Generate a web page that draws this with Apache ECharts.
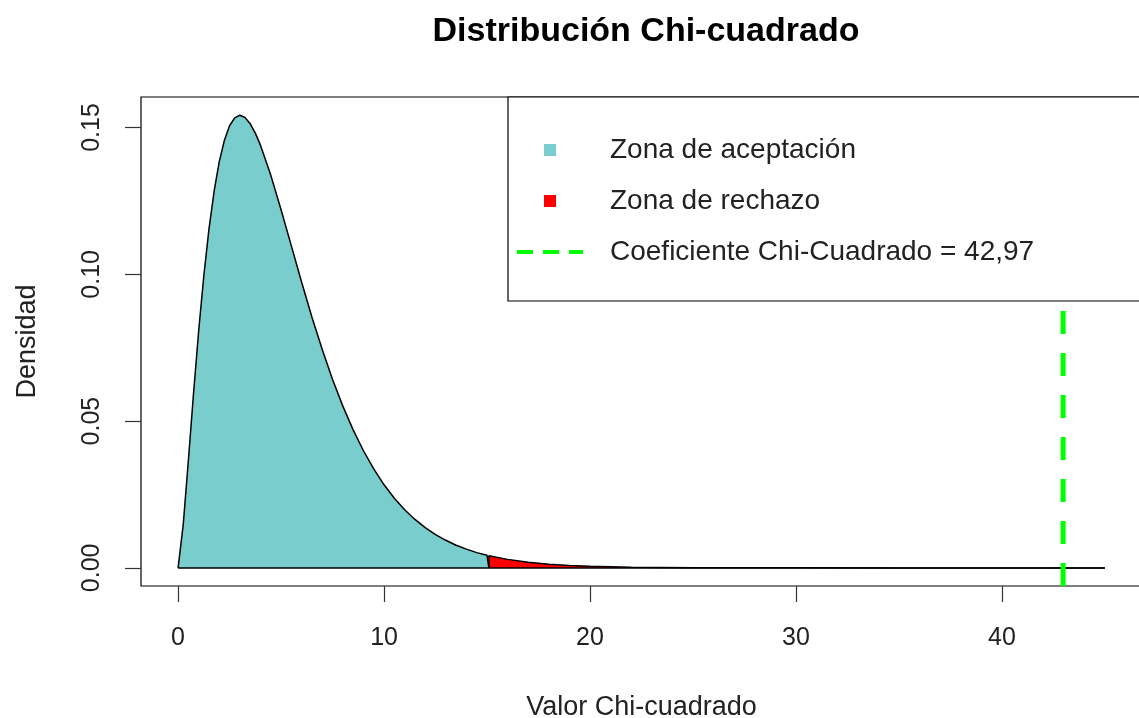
<!DOCTYPE html>
<html>
<head>
<meta charset="utf-8">
<script src="https://cdn.jsdelivr.net/npm/echarts@6/dist/echarts.min.js"></script>
<style>html,body{margin:0;padding:0;background:#fff}#c{width:1139px;height:718px}</style>
</head>
<body>
<div id="c"></div>
<script>
// Chi-square density
const acceptX = [0,0.25,0.5,0.75,1,1.25,1.5,1.75,2,2.25,2.5,2.75,3,3.25,3.5,3.75,4,4.5,5,5.5,6,6.5,7,7.5,8,8.5,9,9.5,10,10.5,11,11.5,12,12.5,13,13.5,14,14.5,15,15.09];
const acceptY = [0,0.0147,0.0366,0.0594,0.0807,0.0995,0.1154,0.1283,0.1384,0.1457,0.1506,0.1533,0.1542,0.1534,0.1513,0.1481,0.1440,0.1338,0.1220,0.1097,0.0973,0.0854,0.0744,0.0642,0.0551,0.0470,0.0399,0.0337,0.0283,0.0237,0.0198,0.0165,0.0137,0.0113,0.0094,0.0077,0.0064,0.0052,0.0043,0.0041];
const rejectX = [15.09,16,17,18,19,20,22,25,30,35,45];
const rejectY = [0.0041,0.0029,0.0019,0.00125,0.00082,0.00054,0.00023,0.00006,0.00001,0,0];
const criticalValue = 15.09;
const chiStat = 42.97;
const curveRange = [0, 45];
const xTicks = [0,10,20,30,40];
const yTicks = [0,0.05,0.10,0.15];
const seriesNames = ['Zona de aceptación','Zona de rechazo','Coeficiente Chi-Cuadrado = 42,97'];

const FONT = 'Liberation Sans, Arial, Helvetica, sans-serif';
const xMin = -1.8, xMax = 46.8, yMin = -0.00617, yMax = 0.1604;

const acceptData = acceptX.map((x,i)=>[x,acceptY[i]]);
acceptData.push([criticalValue,0]);
const rejectData = [[criticalValue,0]].concat(rejectX.map((x,i)=>[x,rejectY[i]]));
const baseData = curveRange.map(x=>[x,0]);
const statData = [[chiStat,yMin],[chiStat,yMax]];

const chart = echarts.init(document.getElementById('c'), null, {renderer:'canvas'});
chart.setOption({
  animation:false,
  backgroundColor:'#fff',
  title:{
    text:'Distribución Chi-cuadrado',
    left:641, top:10, textAlign:'center',
    textStyle:{fontFamily:FONT, fontSize:34, fontWeight:'bold', color:'#000'}
  },
  grid:{left:141, right:-3, top:97, bottom:132, outerBoundsMode:'none', containLabel:false,
    show:true, borderColor:'#000', borderWidth:1.2, backgroundColor:'transparent'},
  xAxis:{
    type:'value', min:xMin, max:xMax,
    name:'Valor Chi-cuadrado', nameLocation:'middle', nameGap:108,
    nameTextStyle:{fontFamily:FONT, fontSize:27, color:'#222'},
    splitLine:{show:false},
    axisLine:{show:false, onZero:false},
    axisTick:{show:true, customValues:xTicks, length:16, lineStyle:{color:'#333', width:1.2}},
    axisLabel:{customValues:xTicks, margin:40, fontFamily:FONT, fontSize:25, color:'#222'}
  },
  yAxis:{
    type:'value', min:yMin, max:yMax,
    name:'Densidad', nameLocation:'middle', nameGap:100, nameRotate:90,
    nameTextStyle:{fontFamily:FONT, fontSize:27, color:'#222'},
    splitLine:{show:false},
    axisLine:{show:false, onZero:false},
    axisTick:{show:true, customValues:yTicks, length:16, lineStyle:{color:'#333', width:1.2}},
    axisLabel:{customValues:yTicks, margin:36, rotate:90, fontFamily:FONT, fontSize:25, color:'#222',
      formatter:v=>v.toFixed(2)}
  },
  legend:{
    orient:'vertical', left:508, top:97, z:20,
    backgroundColor:'#fff', borderColor:'#000', borderWidth:1.2, borderRadius:0,
    padding:[38,200,34,9],
    itemWidth:66, itemHeight:12, itemGap:21,
    textStyle:{fontFamily:FONT, fontSize:28, color:'#222', lineHeight:30, padding:[0,0,0,22]},
    data:[
      {name:seriesNames[0], icon:'path://M0,0L10,0L10,10L0,10Z', itemStyle:{color:'#79CDCD', borderWidth:0}},
      {name:seriesNames[1], icon:'path://M0,0L10,0L10,10L0,10Z', itemStyle:{color:'#FF0000', borderWidth:0}},
      {name:seriesNames[2], icon:'path://M0,0h16v4h-16z M26,0h16v4h-16z M52,0h14v4h-14z', itemStyle:{color:'#00FF00', borderWidth:0}}
    ]
  },
  series:[
    {name:seriesNames[0], type:'line', data:acceptData, symbol:'none', color:'#79CDCD',
      lineStyle:{color:'#000', width:1.5}, areaStyle:{color:'#79CDCD', opacity:1}, z:3},
    {name:seriesNames[1], type:'line', data:rejectData, symbol:'none', color:'#FF0000',
      lineStyle:{color:'#000', width:1.5}, areaStyle:{color:'#FF0000', opacity:1}, z:3},
    {name:'base', type:'line', data:baseData, symbol:'none', lineStyle:{color:'#000', width:1.5}, z:4},
    {name:seriesNames[2], type:'line', data:statData, symbol:'none', color:'#00FF00',
      lineStyle:{color:'#00FF00', width:5, type:[23,19]}, z:5}
  ]
});
</script>
</body>
</html>
